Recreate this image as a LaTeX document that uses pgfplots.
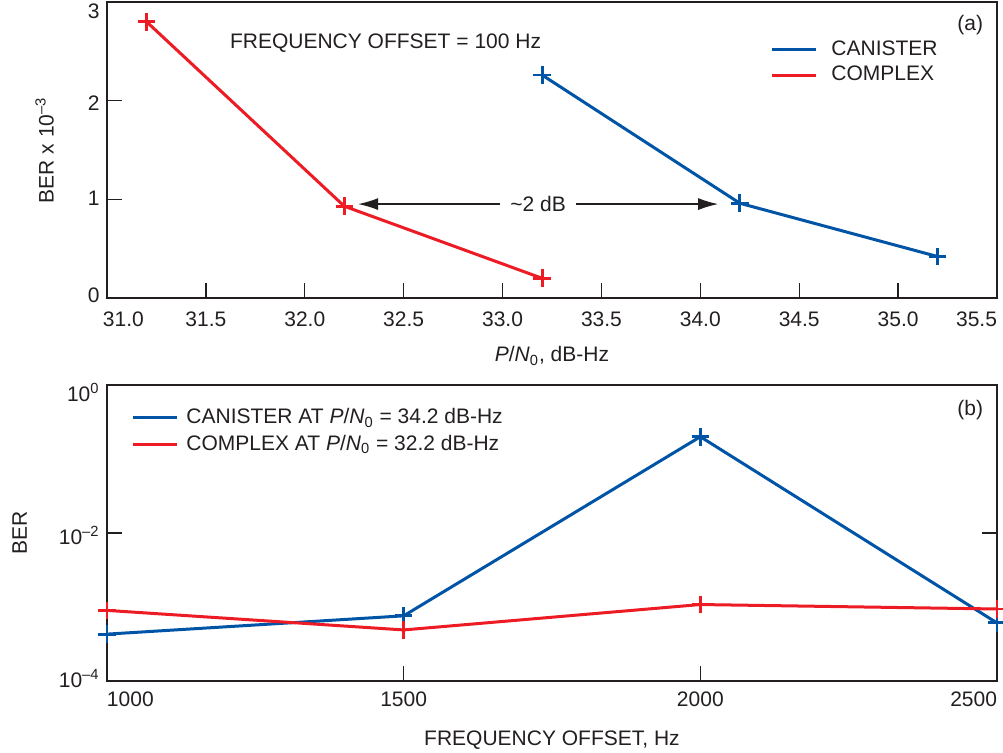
\documentclass[border=0pt]{standalone}
\usepackage{fontspec}
\setmainfont{Liberation Sans}
\usepackage{pgfplots}
\pgfplotsset{compat=1.18}
\usetikzlibrary{arrows.meta}

\definecolor{cblue}{RGB}{0,84,166}
\definecolor{cred}{RGB}{237,28,36}
\definecolor{ink}{RGB}{35,31,32}

% label lowered by #1 pt, box kept at zero height
\newcommand{\yl}[2]{\raisebox{-#1pt}[0pt][0pt]{#2}}

\pgfplotsset{
  panel/.style={
    scale only axis, width=445pt, height=148pt,
    axis line style={ink, line width=1.1pt},
    tick style={ink, line width=0.7pt},
    tick align=inside,
    major tick length=7.5pt,
    xtick pos=bottom,
    every tick label/.append style={ink},
    label style={ink},
    /pgf/number format/assume math mode=true,
    legend style={draw=none, fill=none, inner sep=0pt, text=ink,
      nodes={inner sep=2pt}},
    legend cell align=left,
    every axis plot/.append style={line width=1.5pt, mark=+, mark size=4.4pt,
      mark options={line width=1.4pt}},
  }
}

\begin{document}
\fontsize{10.5}{12.6}\selectfont
\begin{tikzpicture}
\useasboundingbox (0,0) rectangle (501.5pt,376pt);

% (a) BER against P/N0
\begin{axis}[panel,
  at={(53.5pt,227pt)},
  xmin=31, xmax=35.5, ymin=0, ymax=3,
  ytick pos=left,
  xtick={31,31.5,32,32.5,33,33.5,34,34.5,35,35.5},
  xticklabels={\makebox[0pt][l]{\hspace*{-2pt}31.0},31.5,32.0,32.5,33.0,33.5,34.0,34.5,35.0,\makebox[0pt][r]{35.5}},
  xticklabel style={yshift=-3pt},
  ytick={0,1,2,3},
  yticklabels={\yl{2.2}{0},\yl{3}{1},\yl{4.7}{2},\yl{8.2}{3}},
  xlabel={\textit{P}/\textit{N}\textsubscript{0}, dB-Hz},
  ylabel={BER x 10\textsuperscript{--3}},
  xlabel style={at={(axis description cs:0.5,-0.196)}, anchor=center},
  ylabel style={at={(axis description cs:-0.070,0.5)}, anchor=center},
  legend style={at={(axis description cs:0.745,0.885)}, anchor=north west},
  legend image code/.code={\draw[#1, mark=none] (0pt,0pt) -- (22pt,0pt); \path (27pt,0pt);},
]
\addplot[cblue] coordinates {(33.2,2.26) (34.2,0.96) (35.2,0.42)};
\addplot[cred] coordinates {(31.2,2.80) (32.2,0.93) (33.2,0.20)};
\legend{CANISTER, COMPLEX}
\node[ink] at (axis description cs:0.970,0.922) {(a)};
\node[ink] at (axis description cs:0.313,0.861) {FREQUENCY OFFSET = 100 Hz};
\draw[ink, line width=0.6pt, {Latex[length=10pt,width=6pt]}-{Latex[length=10pt,width=6pt]}]
  (axis cs:32.27,0.952) -- (axis cs:34.09,0.952)
  node[midway, fill=white, inner xsep=5pt, inner ysep=1pt, text=ink] {\textasciitilde 2 dB};
\end{axis}

% (b) BER against frequency offset
\begin{axis}[panel,
  at={(53.5pt,35.5pt)},
  ymode=log,
  xmin=1000, xmax=2500, ymin=1e-4, ymax=1,
  ytick pos=both,
  yminorticks=false,
  xtick={1000,1500,2000,2500},
  xticklabels={\makebox[0pt][l]{1000},1500,2000,\makebox[0pt][r]{2500}},
  xticklabel style={yshift=-1.5pt},
  ytick={1e-4,1e-2,1},
  yticklabels={\yl{3}{10\textsuperscript{--4}},\yl{5.5}{10\textsuperscript{--2}},\yl{8}{10\textsuperscript{0}}},
  xlabel={FREQUENCY OFFSET, Hz},
  ylabel={BER},
  xlabel style={at={(axis description cs:0.5,-0.201)}, anchor=center},
  ylabel style={at={(axis description cs:-0.098,0.5)}, anchor=center},
  legend style={at={(axis description cs:0.027,0.935)}, anchor=north west},
  legend image code/.code={\draw[#1, mark=none] (0pt,0pt) -- (22pt,0pt); \path (24pt,0pt);},
]
\addplot[cblue] coordinates {(1000,4.3e-4) (1500,7.6e-4) (2000,0.20) (2500,6.1e-4)};
\addplot[cred] coordinates {(1000,9.0e-4) (1500,4.9e-4) (2000,1.08e-3) (2500,9.4e-4)};
\legend{CANISTER AT \textit{P}/\textit{N}\textsubscript{0} = 34.2 dB-Hz,
        COMPLEX AT \textit{P}/\textit{N}\textsubscript{0} = 32.2 dB-Hz}
\node[ink] at (axis description cs:0.970,0.915) {(b)};
\end{axis}
\end{tikzpicture}
\end{document}
